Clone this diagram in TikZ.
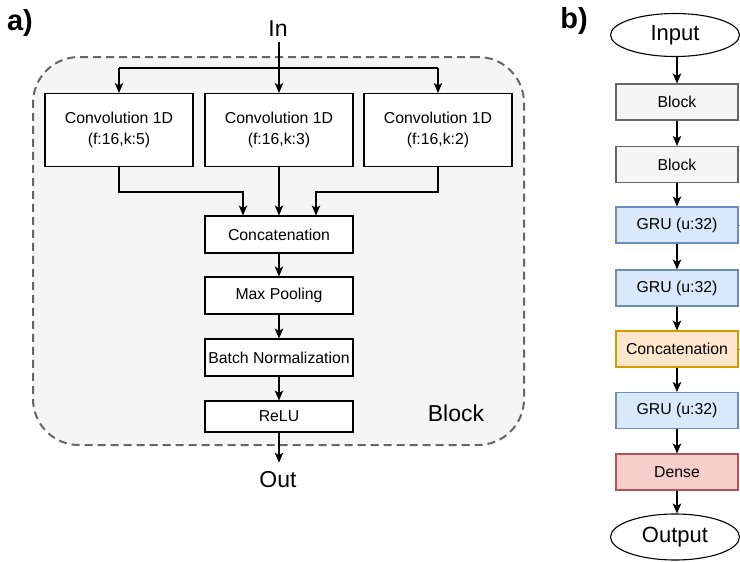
\documentclass[tikz,border=0pt]{standalone}
\usepackage{fontspec}
\setmainfont{Liberation Sans}
\usetikzlibrary{arrows.meta,shapes.geometric}
\definecolor{blockfill}{HTML}{F5F5F5}
\definecolor{blockline}{HTML}{666666}
\definecolor{grufill}{HTML}{DAE8FC}
\definecolor{gruline}{HTML}{6C8EBF}
\definecolor{catfill}{HTML}{FFE6CC}
\definecolor{catline}{HTML}{D79B00}
\definecolor{densefill}{HTML}{F8CECC}
\definecolor{denseline}{HTML}{B85450}
\begin{document}
\begin{tikzpicture}[x=1pt,y=-1pt,
  every node/.style={font=\fontsize{15.8}{21}\selectfont},
  box/.style={draw=black, fill=white, line width=1.1pt, minimum width=148pt, minimum height=37pt, inner sep=0pt, align=center},
  bbox/.style={draw, line width=1.1pt, minimum width=122pt, minimum height=36pt, inner sep=0pt, align=center},
  ell/.style={ellipse, draw=black, fill=white, line width=1.1pt, minimum width=129pt, minimum height=43pt, inner sep=0pt, font=\fontsize{22}{26}\selectfont},
  big/.style={font=\fontsize{23}{27}\selectfont, inner sep=5pt},
  lbl/.style={font=\fontsize{29}{32}\selectfont\bfseries, inner sep=0pt},
  conn/.style={line width=1.1pt, draw=black},
  arr/.style={conn, -{Stealth[length=10pt,width=8.5pt,inset=2.5pt]}}
]
\useasboundingbox (0,0) rectangle (740,562);

% ---------- panel a ----------
\node[lbl] (la) at (20,23) {a)};
\node[draw=blockline, fill=blockfill, dashed, dash pattern=on 8pt off 5pt, line width=2pt,
      rounded corners=46pt, minimum width=491pt, minimum height=388pt, inner sep=0pt] (blk) at (278.5,251) {};
\node[big] (blklbl) at (456,413) {Block};

\node[big] (in) at (278,29) {In};
\node[big, inner sep=9pt] (out) at (278,480) {Out};

\node[box, minimum height=73pt] (c1) at (119,130) {Convolution 1D\\(f:16,k:5)};
\node[box, minimum height=73pt] (c2) at (279,130) {Convolution 1D\\(f:16,k:3)};
\node[box, minimum height=73pt] (c3) at (438,130) {Convolution 1D\\(f:16,k:2)};
\node[box] (cat) at (279,234.5) {Concatenation};
\node[box] (mp) at (279,295.5) {Max Pooling};
\node[box] (bn) at (279,357.5) {Batch Normalization};
\node[box, minimum height=31pt] (relu) at (279,416.5) {ReLU};

\coordinate (split) at (279,68);
\coordinate (m1) at (243,192);
\coordinate (m3) at (316,192);

\draw[arr] (c2.north |- in.south) -- (c2.north);
\draw[conn] (c1.north |- split) -- (c3.north |- split);
\draw[arr] (c1.north |- split) -- (c1.north);
\draw[arr] (c3.north |- split) -- (c3.north);
\draw[arr] (c1.south) |- (m1) -- (m1 |- cat.north);
\draw[arr] (c2.south) -- (cat.north);
\draw[arr] (c3.south) |- (m3) -- (m3 |- cat.north);
\draw[arr] (cat) -- (mp);
\draw[arr] (mp) -- (bn);
\draw[arr] (bn) -- (relu);
\draw[arr] (relu.south) -- (relu.south |- out.north);

% ---------- panel b ----------
\node[lbl] (lb) at (574,21) {b)};
\node[ell] (inp) at (675,35) {Input};
\node[bbox, draw=blockline, fill=blockfill] (b1) at (677,102) {Block};
\node[bbox, draw=blockline, fill=blockfill] (b2) at (677,164.5) {Block};
\node[bbox, draw=gruline, fill=grufill] (g1) at (677,225) {GRU (u:32)};
\node[bbox, draw=gruline, fill=grufill] (g2) at (677,288) {GRU (u:32)};
\node[bbox, draw=catline, fill=catfill] (bc) at (677,349) {Concatenation};
\node[bbox, draw=gruline, fill=grufill] (g3) at (677,410.5) {GRU (u:32)};
\node[bbox, draw=denseline, fill=densefill] (d) at (677,472) {Dense};
\node[ell, minimum height=46pt] (outp) at (675,537) {Output};

\coordinate (e1) at (741,225);
\coordinate (e2) at (741,349);

\draw[arr] (b1.north |- inp.south) -- (b1.north);
\draw[arr] (b1) -- (b2);
\draw[arr] (b2) -- (g1);
\draw[arr] (g1) -- (g2);
\draw[arr] (g2) -- (bc);
\draw[arr] (bc) -- (g3);
\draw[arr] (g3) -- (d);
\draw[arr] (d.south) -- (d.south |- outp.north);
\draw[line width=0.8pt, draw=gray] (g1.east) -- (e1);
\draw[line width=0.8pt, draw=gray] (bc.east) -- (e2);
\end{tikzpicture}
\end{document}
